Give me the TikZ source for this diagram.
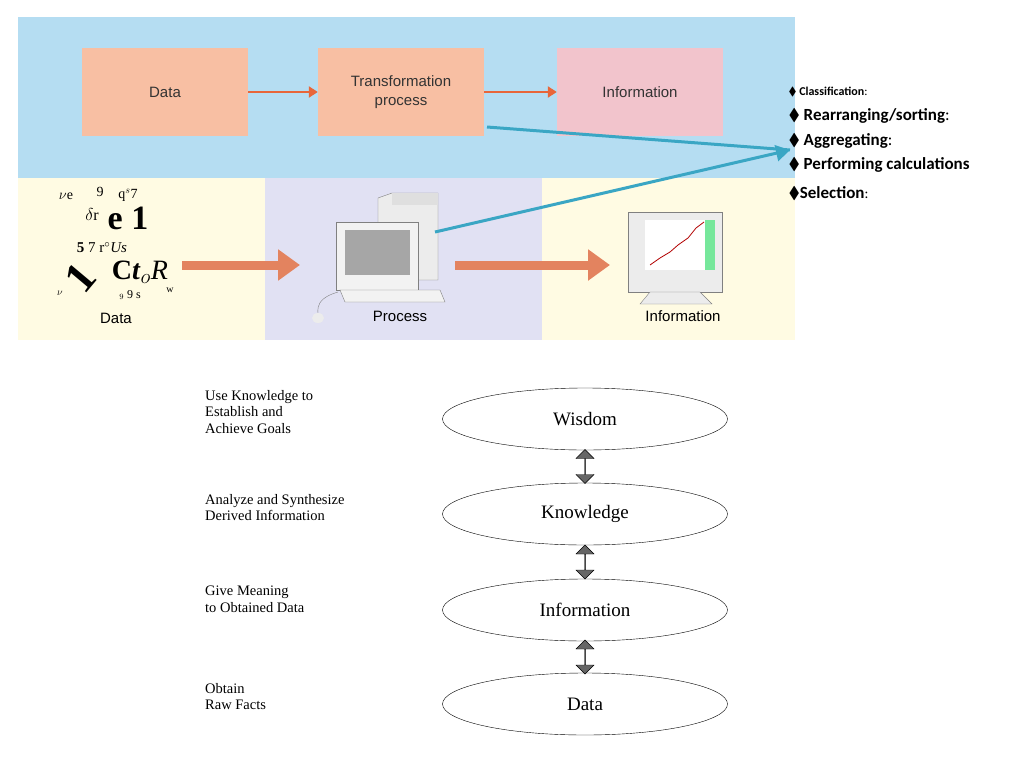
\documentclass[tikz,border=0pt]{standalone}
\usepackage{amssymb}
\usepackage{fontspec}
\setmainfont{Liberation Serif}
\newfontfamily\carl{Carlito}
\newfontfamily\lsans{Liberation Sans}
\usetikzlibrary{shapes.geometric,shapes.arrows,arrows.meta,calc}
\definecolor{topblue}{HTML}{B5DDF2}
\definecolor{salmon}{HTML}{F8BFA3}
\definecolor{pinkbox}{HTML}{F2C4CC}
\definecolor{orng}{HTML}{E8663A}
\definecolor{cream}{HTML}{FFFBE3}
\definecolor{lav}{HTML}{E1E1F3}
\definecolor{bigarr}{HTML}{E3835F}
\definecolor{teal}{HTML}{3AA6C4}
\tikzset{
 box/.style={draw=none,minimum width=166pt,minimum height=87pt,font=\lsans\fontsize{15}{17}\selectfont,align=center,text=black!80},
 oarr/.style={orng,line width=2.5pt,-{Triangle[length=9pt,width=11pt]}},
 barr/.style={bigarr,line width=9pt,-{Triangle[length=22pt,width=30pt]}},
 tarr/.style={teal,line width=3pt},
 ell/.style={draw,ellipse,minimum width=285pt,minimum height=62pt,font=\fontsize{19}{21}\selectfont},
 darr/.style={double arrow,draw,fill=gray!80!black,minimum width=18pt,minimum height=34pt,double arrow head extend=6pt,rotate=90,inner sep=0pt},
 lt/.style={anchor=north west,align=left,font=\fontsize{14.5}{16.5}\selectfont,inner sep=0pt},
 bl/.style={anchor=west,font=\carl\bfseries\fontsize{17}{19}\selectfont},
 sc/.style={font=\fontsize{#1}{#1}\selectfont,inner sep=0pt}
}
\begin{document}
\begin{tikzpicture}[x=1pt,y=-1pt]
\useasboundingbox (0,0) rectangle (1024,768);
\fill[white] (0,0) rectangle (1024,768);
\fill[topblue] (18,17) rectangle (795,178);
\fill[cream] (18,178) rectangle (265,340);
\fill[lav] (265,178) rectangle (542,340);
\fill[cream] (542,178) rectangle (795,340);
\node[box,fill=salmon] (d) at (165,92) {Data};
\node[box,fill=salmon] (t) at (401,92) {Transformation\\[2pt]process};
\node[box,fill=pinkbox] (i) at (640,92) {Information};
\draw[oarr] (d.east) -- (t.west);
\draw[oarr] (t.east) -- (i.west);
% scattered data letters
\node[sc=14] at (66,196) {$\nu$e};
\node[sc=14] at (100,192) {9};
\node[sc=14] at (128,195) {q$^{s}$7};
\node[sc=34] at (128,218) {\textbf{e 1}};
\node[sc=16] at (92,214) {$\delta$r};
\node[sc=15] at (102,248) {\textbf{5} 7 r$^{\circ}$\textit{Us}};
\node[sc=44,rotate=50] at (80,278) {\textbf{1}};
\node[sc=28] at (140,272) {\textbf{C}\textit{\textbf{t}}$_o$\textit{R}};
\node[sc=12] at (130,295) {$_9$ 9 s};
\node[sc=10] at (170,290) {w};
\node[sc=10] at (60,293) {$\nu$};
\node[font=\lsans\fontsize{15}{17}\selectfont] (dl) at (116,318) {Data};
\node[font=\lsans\fontsize{15}{17}\selectfont] (pl) at (400,316) {Process};
\node[font=\lsans\fontsize{15}{17}\selectfont] (il) at (683,316) {Information};
% computer
\draw[gray,fill=gray!15] (378,198) -- (392,193) -- (438,193) -- (438,280) -- (378,280) -- cycle;
\fill[gray!25] (392,193) rectangle (438,205);
\draw[gray,fill=gray!10] (336,222) rectangle (418,290);
\fill[gray!70] (345,230) rectangle (410,275);
\draw[gray,fill=gray!10] (340,290) -- (440,290) -- (445,302) -- (345,302) -- cycle;
\draw[gray] (338,292) .. controls (310,300) and (320,315) .. (318,318);
\fill[gray!15] (318,318) ellipse (6 and 5);
\coordinate (pc) at (435,232);
% info monitor
\draw[gray,fill=gray!15] (628,212) rectangle (722,292);
\fill[white] (645,220) rectangle (705,270);
\fill[green!55!teal!60] (705,220) rectangle (715,270);
\draw[red!70!black,thick] (650,265) -- (660,258) -- (670,252) -- (678,245) -- (688,238) -- (696,228) -- (704,222);
\draw[gray,fill=gray!15] (650,292) -- (700,292) -- (712,304) -- (640,304) -- cycle;
\draw[barr] (182,265) -- (300,265);
\draw[barr] (455,265) -- (610,265);
% bullets
\node[bl] (b1) at (785,92) {\large$\blacklozenge$ Classification\mdseries:};
\node[bl] (b2) at (785,116) {$\blacklozenge$ Rearranging/sorting\mdseries:};
\node[bl] (b3) at (785,141) {$\blacklozenge$ Aggregating\mdseries:};
\node[bl] (b4) at (785,165) {$\blacklozenge$ Performing calculations};
\node[bl] (b5) at (785,193) {$\blacklozenge$Selection\mdseries\Large:};
\coordinate (tp) at (487,127);
\coordinate (tip) at (790,150);
\draw[tarr] (tp) -- (tip);
\draw[tarr,-{Triangle[length=14pt,width=16pt]}] (pc) -- (tip);
% pyramid
\node[ell] (w) at (585,419) {Wisdom};
\node[ell] (k) at (585,514) {Knowledge};
\node[ell] (in) at (585,610) {Information};
\node[ell] (da) at (585,704) {Data};
\node[darr] (a1) at ($(w.south)!0.5!(k.north)$) {};
\node[darr] (a2) at ($(k.south)!0.5!(in.north)$) {};
\node[darr] (a3) at ($(in.south)!0.5!(da.north)$) {};
\node[lt] (l1) at (205,390) {Use Knowledge to\\Establish and\\Achieve Goals};
\node[lt] (l2) at (205,494) {Analyze and Synthesize\\Derived Information};
\node[lt] (l3) at (205,586) {Give Meaning\\to Obtained Data};
\node[lt] (l4) at (205,683) {Obtain\\Raw Facts};
\end{tikzpicture}
\end{document}
